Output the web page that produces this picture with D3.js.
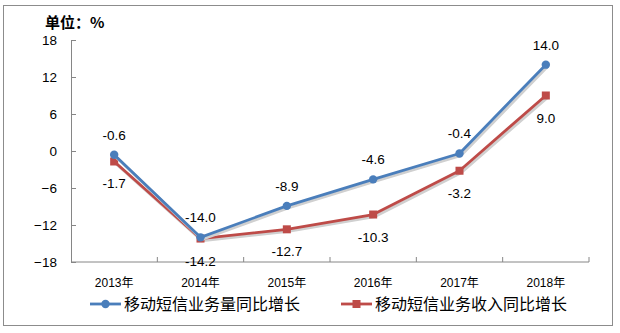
<!DOCTYPE html>
<html>
<head>
<meta charset="utf-8">
<script src="https://cdn.jsdelivr.net/npm/d3@7"></script>
<style>
  html, body { margin: 0; padding: 0; background: #fff; }
  svg { display: block; }
  text { font-family: "Liberation Sans", "Noto Sans CJK SC", sans-serif; fill: #000; }
</style>
</head>
<body>
<svg id="chart" width="620" height="333"></svg>
<script>
const years = ["2013年", "2014年", "2015年", "2016年", "2017年", "2018年"];
const volumeGrowth = [-0.6, -14.0, -8.9, -4.6, -0.4, 14.0];
const revenueGrowth = [-1.7, -14.2, -12.7, -10.3, -3.2, 9.0];
const yTicks = [18, 12, 6, 0, -6, -12, -18];
const seriesNames = ["移动短信业务量同比增长", "移动短信业务收入同比增长"];
const unitLabel = "单位：%";

const svg = d3.select("#chart");
const W = 620, H = 333;
const plot = { left: 71, right: 589, top: 40, bottom: 262 };

// outer frame
svg.append("rect").attr("x", 3.5).attr("y", 5.5).attr("width", 609).attr("height", 320)
  .attr("fill", "#fff").attr("stroke", "#8c8c8c").attr("stroke-width", 1);

const x = d3.scaleBand().domain(years).range([plot.left, plot.right]);
const y = d3.scaleLinear().domain([-18, 18]).range([plot.bottom, plot.top]);

// y axis
const yAxis = svg.append("g").attr("transform", `translate(${plot.left},0)`)
  .call(d3.axisRight(y).tickValues(yTicks).tickSize(5).tickFormat(d3.format("d")));
yAxis.select(".domain").attr("stroke", "#868686");
yAxis.selectAll(".tick line").attr("stroke", "#868686");
yAxis.selectAll(".tick text").attr("x", -14).attr("text-anchor", "end")
  .style("font-size", "13.5px").style("font-family", "Liberation Sans, sans-serif");

// x axis with tick marks at band boundaries
const xg = svg.append("g").attr("transform", `translate(0,${plot.bottom})`);
xg.append("line").attr("x1", plot.left).attr("x2", plot.right)
  .attr("stroke", "#868686");
const bounds = years.map(d => x(d) + x.bandwidth());
xg.selectAll("line.tk").data(bounds).join("line").attr("class", "tk")
  .attr("x1", d => d).attr("x2", d => d).attr("y1", 0).attr("y2", -5)
  .attr("stroke", "#868686");
xg.selectAll("text").data(years).join("text")
  .attr("x", d => x(d) + x.bandwidth() / 2).attr("y", 25)
  .attr("text-anchor", "middle").style("font-size", "12px")
  .style("font-family", "Liberation Sans, 'Noto Sans CJK SC', sans-serif")
  .text(d => d);

// unit label
svg.append("text").attr("x", 45).attr("y", 28).style("font-size", "15px")
  .style("font-weight", "bold").style("font-family", "'Noto Sans CJK SC', sans-serif")
  .text(unitLabel);

const cx = d => x(d) + x.bandwidth() / 2;
const blue = "#4a7ebb", red = "#be4b48";

function drawSeries(values, color, marker, labelDy) {
  const pts = years.map((yr, i) => [cx(yr), y(values[i]), values[i]]);
  const line = d3.line().x(d => d[0]).y(d => d[1]);
  svg.append("path").datum(pts).attr("d", line).attr("fill", "none")
    .attr("stroke", "#d0d0d0").attr("stroke-width", 3).attr("transform", "translate(1.5,2)");
  svg.append("path").datum(pts).attr("d", line).attr("fill", "none")
    .attr("stroke", color).attr("stroke-width", 2.8).attr("stroke-linejoin", "round");
  if (marker === "circle") {
    svg.selectAll(null).data(pts).join("circle")
      .attr("cx", d => d[0]).attr("cy", d => d[1]).attr("r", 4.2).attr("fill", color);
  } else {
    svg.selectAll(null).data(pts).join("rect")
      .attr("x", d => d[0] - 4).attr("y", d => d[1] - 4)
      .attr("width", 8).attr("height", 8).attr("fill", color);
  }
  svg.selectAll(null).data(pts).join("text")
    .attr("x", d => d[0]).attr("y", d => d[1] + labelDy)
    .attr("text-anchor", "middle").style("font-size", "13.5px")
    .text(d => d3.format(".1f")(d[2]).replace("−", "-"));
}

drawSeries(revenueGrowth, red, "square", 27);
drawSeries(volumeGrowth, blue, "circle", -15);

// legend
const legend = svg.append("g");
const items = [
  { name: seriesNames[0], color: blue, marker: "circle", x: 90 },
  { name: seriesNames[1], color: red, marker: "square", x: 341 }
];
items.forEach(it => {
  const g = legend.append("g").attr("transform", `translate(${it.x},304)`);
  g.append("line").attr("x1", 0).attr("x2", 31).attr("stroke", it.color).attr("stroke-width", 2.8);
  if (it.marker === "circle") g.append("circle").attr("cx", 15.5).attr("r", 4.2).attr("fill", it.color);
  else g.append("rect").attr("x", 11.5).attr("y", -4).attr("width", 8).attr("height", 8).attr("fill", it.color);
  g.append("text").attr("x", 34).attr("y", 6).style("font-size", "16px")
    .style("font-family", "'Noto Sans CJK SC', sans-serif").text(it.name);
});
</script>
</body>
</html>
